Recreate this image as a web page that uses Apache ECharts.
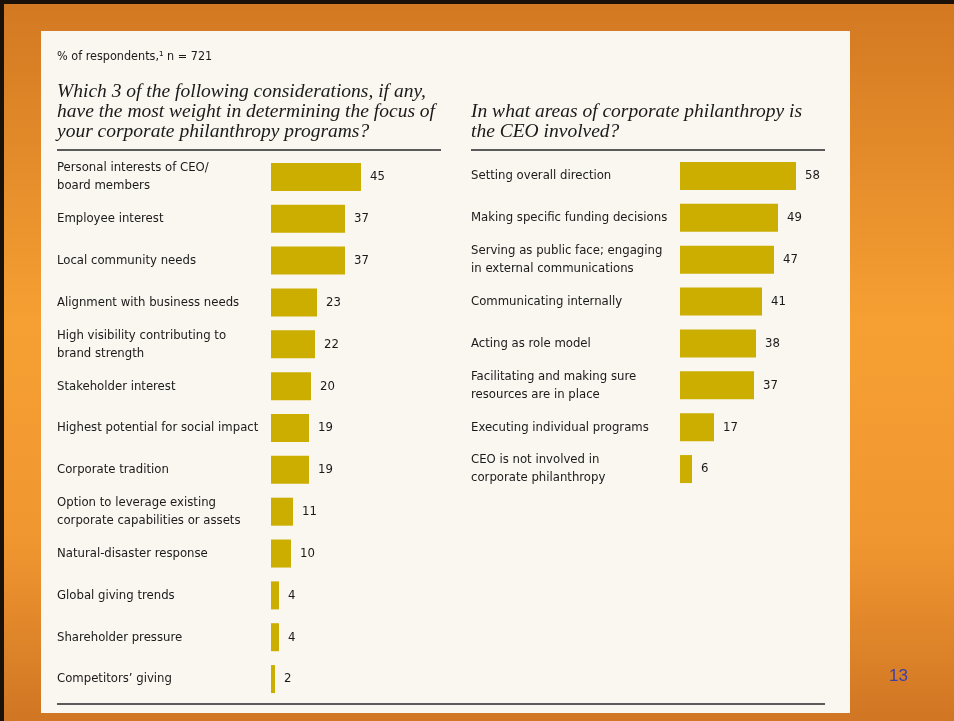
<!DOCTYPE html>
<html>
<head>
<meta charset="utf-8">
<script src="https://cdn.jsdelivr.net/npm/echarts@6/dist/echarts.min.js"></script>
<style>
  html, body { margin: 0; padding: 0; }
  #chart { width: 954px; height: 721px; }
</style>
</head>
<body>
<div id="chart"></div>
<script>
var leftCats = [
  'Personal interests of CEO/\nboard members',
  'Employee interest',
  'Local community needs',
  'Alignment with business needs',
  'High visibility contributing to\nbrand strength',
  'Stakeholder interest',
  'Highest potential for social impact',
  'Corporate tradition',
  'Option to leverage existing\ncorporate capabilities or assets',
  'Natural-disaster response',
  'Global giving trends',
  'Shareholder pressure',
  'Competitors\u2019 giving'
];
var leftVals = [45, 37, 37, 23, 22, 20, 19, 19, 11, 10, 4, 4, 2];

var rightCats = [
  'Setting overall direction',
  'Making specific funding decisions',
  'Serving as public face; engaging\nin external communications',
  'Communicating internally',
  'Acting as role model',
  'Facilitating and making sure\nresources are in place',
  'Executing individual programs',
  'CEO is not involved in\ncorporate philanthropy'
];
var rightVals = [58, 49, 47, 41, 38, 37, 17, 6];

var leftTitle = [
  'Which 3 of the following considerations, if any,',
  'have the most weight in determining the focus of',
  'your corporate philanthropy programs?'
];
var rightTitle = [
  'In what areas of corporate philanthropy is',
  'the CEO involved?'
];

var sans = '"Liberation Sans Narrow", "DejaVu Sans Condensed", "Liberation Sans", sans-serif';
var serif = '"Liberation Serif", "DejaVu Serif", serif';
var barColor = '#CBAE00';

var chart = echarts.init(document.getElementById('chart'));

function titleText(lines, x, y0) {
  return lines.map(function (t, i) {
    return {
      type: 'text',
      left: x,
      top: y0 + i * 19.7,
      style: {
        text: t,
        font: 'italic 19.5px ' + serif,
        fill: '#1a1a1a'
      },
      z: 10
    };
  });
}

function catAxis(gridIndex, cats, margin) {
  return {
    type: 'category',
    gridIndex: gridIndex,
    data: cats,
    inverse: true,
    axisLine: { show: false },
    axisTick: { show: false },
    axisLabel: {
      align: 'left',
      margin: margin,
      fontFamily: sans,
      fontSize: 13,
      lineHeight: 18,
      color: '#1a1a1a'
    }
  };
}

function valAxis(gridIndex) {
  return {
    type: 'value',
    gridIndex: gridIndex,
    min: 0,
    max: 100,
    show: false
  };
}

function barSeries(idx, vals) {
  return {
    type: 'bar',
    xAxisIndex: idx,
    yAxisIndex: idx,
    data: vals,
    barWidth: 28,
    itemStyle: { color: barColor },
    label: {
      show: true,
      position: 'right',
      distance: 9,
      fontFamily: sans,
      fontSize: 13,
      color: '#1a1a1a'
    },
    silent: true,
    animation: false
  };
}

var graphics = [
  {
    type: 'rect',
    shape: { x: 0, y: 0, width: 954, height: 721 },
    style: {
      fill: new echarts.graphic.LinearGradient(0, 0, 0, 1, [
        { offset: 0, color: '#D27822' },
        { offset: 0.45, color: '#F6A033' },
        { offset: 0.75, color: '#F09630' },
        { offset: 1, color: '#D07624' }
      ])
    },
    z: -10
  },
  { type: 'rect', shape: { x: 0, y: 0, width: 954, height: 4 }, style: { fill: '#1a1208' }, z: -9 },
  { type: 'rect', shape: { x: 0, y: 0, width: 4, height: 721 }, style: { fill: '#1a1208' }, z: -9 },
  {
    type: 'rect',
    shape: { x: 41, y: 31, width: 809, height: 682 },
    style: { fill: '#FAF6F0' },
    z: -5
  },
  {
    type: 'text',
    left: 57,
    top: 50,
    style: { text: '% of respondents,\u00b9 n = 721', font: '12.5px ' + sans, fill: '#1a1a1a' }
  },
  { type: 'line', shape: { x1: 57, y1: 150, x2: 441, y2: 150 }, style: { stroke: '#5a5a5a', lineWidth: 2 } },
  { type: 'line', shape: { x1: 471, y1: 150, x2: 825, y2: 150 }, style: { stroke: '#5a5a5a', lineWidth: 2 } },
  { type: 'line', shape: { x1: 57, y1: 704, x2: 825, y2: 704 }, style: { stroke: '#5a5a5a', lineWidth: 2 } },
  {
    type: 'text',
    left: 889,
    top: 668,
    style: { text: '13', font: '17px "Liberation Sans", Arial, sans-serif', fill: '#3F3FA8' }
  }
].concat(titleText(leftTitle, 57, 82), titleText(rightTitle, 471, 102));

chart.setOption({
  animation: false,
  graphic: graphics,
  grid: [
    { left: 271, top: 156, width: 200, height: 544 },
    { left: 680, top: 155, width: 200, height: 335 }
  ],
  xAxis: [valAxis(0), valAxis(1)],
  yAxis: [catAxis(0, leftCats, 214), catAxis(1, rightCats, 209)],
  series: [barSeries(0, leftVals), barSeries(1, rightVals)]
});
</script>
</body>
</html>
